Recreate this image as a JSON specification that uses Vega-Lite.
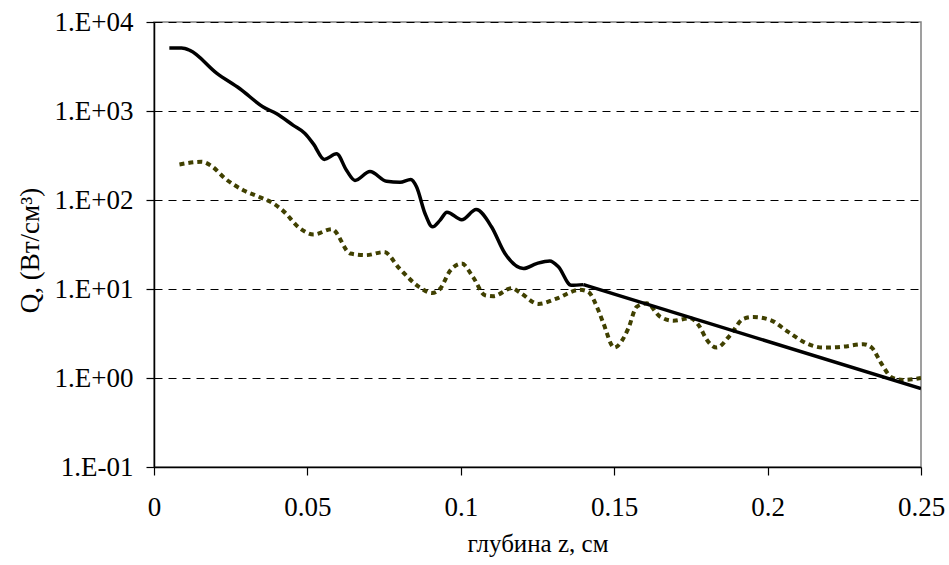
{
  "$schema": "https://vega.github.io/schema/vega-lite/v6.json",
  "width": 767,
  "height": 445,
  "autosize": {"type": "none"},
  "padding": {"left": 154, "top": 22, "right": 28, "bottom": 98},
  "background": "white",
  "config": {
    "view": {"stroke": "#808080", "strokeWidth": 1.5},
    "font": "Liberation Serif"
  },
  "datasets": {
    "solid": [
      {"z": 0.005, "Q": 5100}, {"z": 0.009, "Q": 5100}, {"z": 0.0117, "Q": 4800},
      {"z": 0.0204, "Q": 2670}, {"z": 0.028, "Q": 1780}, {"z": 0.0356, "Q": 1110},
      {"z": 0.040, "Q": 930}, {"z": 0.0454, "Q": 690}, {"z": 0.0492, "Q": 560},
      {"z": 0.052, "Q": 425}, {"z": 0.0555, "Q": 286}, {"z": 0.0595, "Q": 330},
      {"z": 0.0628, "Q": 214}, {"z": 0.0655, "Q": 166}, {"z": 0.0704, "Q": 209},
      {"z": 0.0758, "Q": 162}, {"z": 0.0802, "Q": 158}, {"z": 0.0837, "Q": 170},
      {"z": 0.0856, "Q": 140}, {"z": 0.0883, "Q": 71}, {"z": 0.0908, "Q": 50},
      {"z": 0.0932, "Q": 59}, {"z": 0.0955, "Q": 73}, {"z": 0.1003, "Q": 60},
      {"z": 0.105, "Q": 78}, {"z": 0.110, "Q": 50}, {"z": 0.1144, "Q": 25},
      {"z": 0.1204, "Q": 17}, {"z": 0.1247, "Q": 19.3}, {"z": 0.129, "Q": 20.7},
      {"z": 0.1318, "Q": 17.8}, {"z": 0.136, "Q": 11}, {"z": 0.140, "Q": 11.2}
    ],
    "solidTail": [
      {"z": 0.140, "Q": 11.2}, {"z": 0.25, "Q": 0.76}
    ],
    "dotted": [
      {"z": 0.0083, "Q": 251}, {"z": 0.0155, "Q": 269}, {"z": 0.0188, "Q": 240},
      {"z": 0.0232, "Q": 174}, {"z": 0.0291, "Q": 129}, {"z": 0.0346, "Q": 107},
      {"z": 0.039, "Q": 91}, {"z": 0.042, "Q": 76}, {"z": 0.0476, "Q": 48},
      {"z": 0.052, "Q": 41}, {"z": 0.058, "Q": 47}, {"z": 0.064, "Q": 25},
      {"z": 0.069, "Q": 24}, {"z": 0.075, "Q": 26}, {"z": 0.080, "Q": 17},
      {"z": 0.0865, "Q": 10.5}, {"z": 0.0906, "Q": 9}, {"z": 0.0932, "Q": 10},
      {"z": 0.0965, "Q": 16}, {"z": 0.1003, "Q": 19.3}, {"z": 0.104, "Q": 13.6},
      {"z": 0.1079, "Q": 8.5}, {"z": 0.1106, "Q": 8.3}, {"z": 0.1166, "Q": 10.2},
      {"z": 0.1193, "Q": 9.1}, {"z": 0.1253, "Q": 6.8}, {"z": 0.1312, "Q": 7.8},
      {"z": 0.1388, "Q": 9.8}, {"z": 0.1415, "Q": 9.3}, {"z": 0.1448, "Q": 5.8},
      {"z": 0.1465, "Q": 4.1}, {"z": 0.150, "Q": 2.2}, {"z": 0.1546, "Q": 3.6},
      {"z": 0.1573, "Q": 6.3}, {"z": 0.1606, "Q": 6.9}, {"z": 0.1649, "Q": 4.9},
      {"z": 0.1693, "Q": 4.4}, {"z": 0.1747, "Q": 4.7}, {"z": 0.178, "Q": 3.7},
      {"z": 0.180, "Q": 2.75}, {"z": 0.1834, "Q": 2.2}, {"z": 0.1877, "Q": 3.0},
      {"z": 0.192, "Q": 4.6}, {"z": 0.1953, "Q": 4.85}, {"z": 0.2008, "Q": 4.5},
      {"z": 0.2067, "Q": 3.3}, {"z": 0.2127, "Q": 2.45}, {"z": 0.2181, "Q": 2.2},
      {"z": 0.2246, "Q": 2.25}, {"z": 0.2312, "Q": 2.4}, {"z": 0.2339, "Q": 2.2},
      {"z": 0.2371, "Q": 1.45}, {"z": 0.2404, "Q": 1.02}, {"z": 0.2442, "Q": 0.95},
      {"z": 0.25, "Q": 1.0}
    ]
  },
  "encoding": {
    "x": {
      "field": "z", "type": "quantitative",
      "scale": {"domain": [0, 0.25], "nice": false, "zero": false},
      "axis": {
        "title": "глубина z, см",
        "values": [0, 0.05, 0.1, 0.15, 0.2, 0.25],
        "format": ".2~f",
        "grid": false,
        "domainColor": "#000000", "domainWidth": 1.5,
        "tickColor": "#000000", "tickSize": 8, "tickWidth": 1.2,
        "labelFont": "Liberation Serif", "labelFontSize": 27, "labelColor": "#000000",
        "labelPadding": 19, "labelFlush": false,
        "titleFont": "Liberation Serif", "titleFontSize": 25, "titleFontWeight": "normal",
        "titleColor": "#000000", "titlePadding": 11
      }
    },
    "y": {
      "field": "Q", "type": "quantitative",
      "scale": {"type": "log", "domain": [0.1, 10000], "nice": false},
      "axis": {
        "title": "Q, (Вт/см³)",
        "values": [0.1, 1, 10, 100, 1000, 10000],
        "labelExpr": "datum.value >= 1 ? '1.E+0' + format(log(datum.value)/LN10, '.0f') : '1.E-01'",
        "grid": true, "gridColor": "#000000", "gridDash": [8, 6], "gridWidth": 1,
        "domainColor": "#000000", "domainWidth": 1.5,
        "tickColor": "#000000", "tickSize": 8, "tickWidth": 1.2,
        "labelFont": "Liberation Serif", "labelFontSize": 27, "labelColor": "#000000",
        "labelPadding": 13, "labelFlush": false,
        "titleFont": "Liberation Serif", "titleFontSize": 27, "titleFontWeight": "normal",
        "titleColor": "#000000", "titlePadding": 10, "titleY": 228
      }
    }
  },
  "layer": [
    {
      "data": {"name": "dotted"},
      "mark": {"type": "line", "interpolate": "monotone", "color": "#404000", "strokeWidth": 4, "strokeDash": [5, 4], "clip": true}
    },
    {
      "data": {"name": "solid"},
      "mark": {"type": "line", "interpolate": "monotone", "color": "#000000", "strokeWidth": 3.5, "clip": true}
    },
    {
      "data": {"name": "solidTail"},
      "mark": {"type": "line", "interpolate": "linear", "color": "#000000", "strokeWidth": 3.5, "clip": true}
    }
  ]
}
